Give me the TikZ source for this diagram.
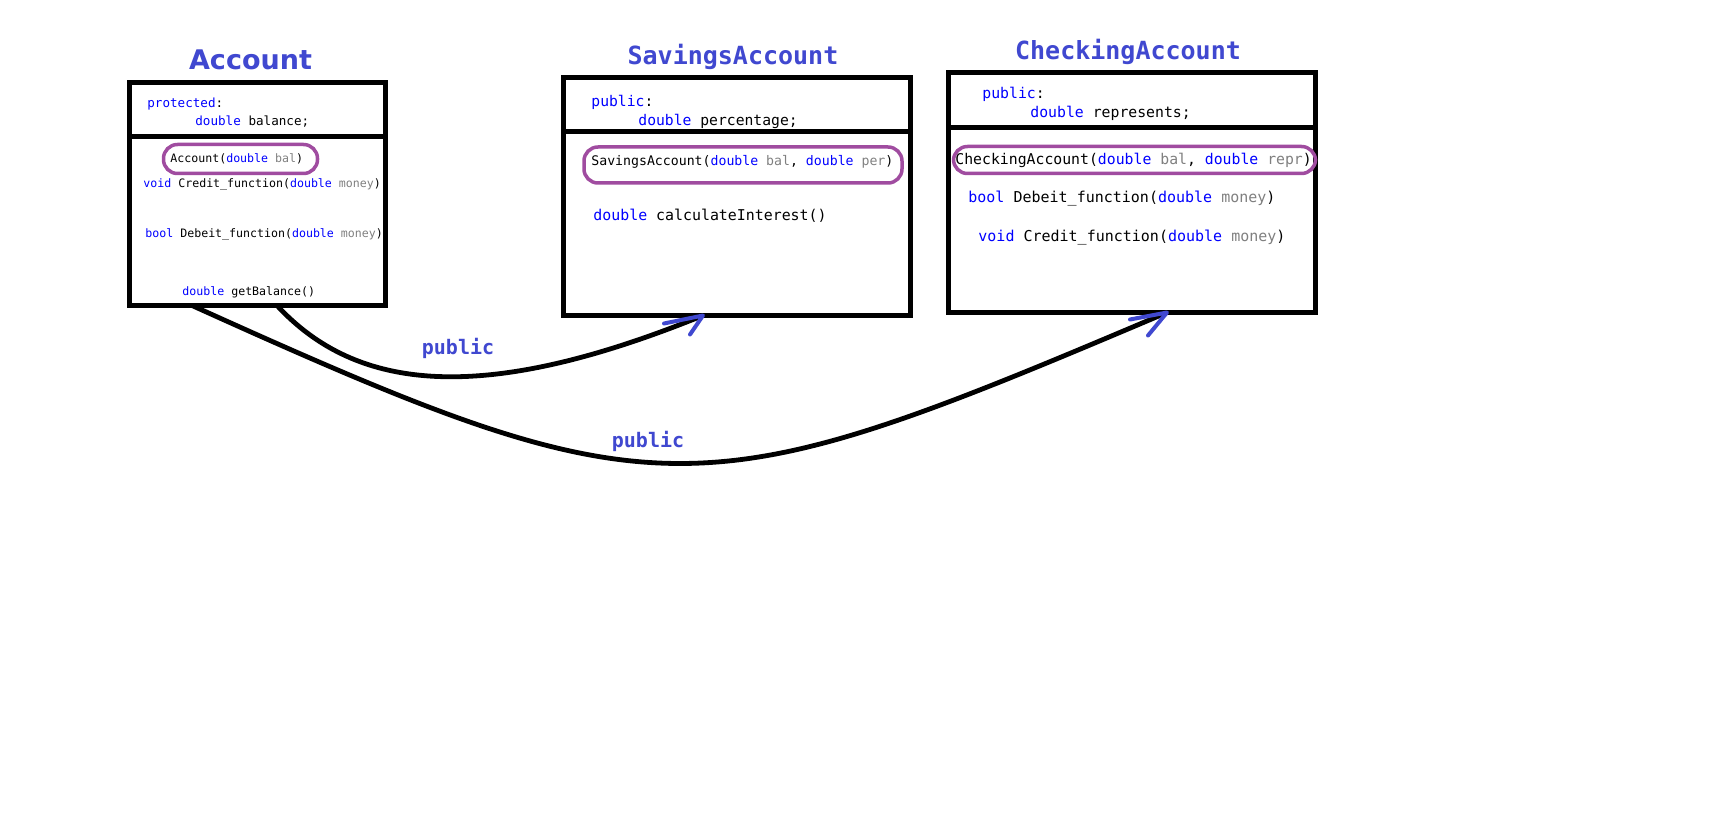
\documentclass[tikz,border=0pt]{standalone}
\usepackage{fontspec}
\setmainfont{DejaVu Sans}
\setmonofont{DejaVu Sans Mono}
\usetikzlibrary{calc}

\definecolor{kwblue}{RGB}{0,0,255}
\definecolor{parmgray}{RGB}{128,128,128}
\definecolor{titleblue}{RGB}{64,72,208}
\definecolor{ovalpurple}{RGB}{160,76,160}

\newcommand{\kw}[1]{\textcolor{kwblue}{#1}}
\newcommand{\prm}[1]{\textcolor{parmgray}{#1}}

\begin{document}
\begin{tikzpicture}[
    x=0.5pt, y=-0.5pt,
    umlbox/.style={draw, line width=2.5pt, inner sep=0pt, outer sep=0pt},
    divider/.style={line width=2.5pt},
    ctorbox/.style={draw=ovalpurple, line width=1.75pt, rounded corners=7pt, inner sep=0pt},
    code/.style={font=\fontsize{#1}{#1}\selectfont\ttfamily, anchor=base west, inner sep=0pt},
    title/.style={font=\fontsize{12.5pt}{12.5pt}\selectfont\ttfamily\bfseries, text=titleblue,
                  anchor=base, inner sep=0pt},
    inherit/.style={line width=2.4pt},
    head/.style={draw=titleblue, line width=2pt, line cap=round, line join=round},
    lbl/.style={font=\fontsize{10pt}{10pt}\selectfont\ttfamily\bfseries, text=titleblue, inner sep=0pt}
  ]

  \path[use as bounding box, fill=white] (0,0) rectangle (1736,828);

  % class boxes
  \node[umlbox, minimum width=128pt, minimum height=111.5pt] (account) at (257.5,194) {};
  \node[umlbox, minimum width=173.5pt, minimum height=119pt] (savings) at (737,196.5) {};
  \node[umlbox, minimum width=183.5pt, minimum height=120pt] (checking) at (1132,192.5) {};

  \draw[divider] (account.west |- 0,137) -- (account.east |- 0,137);
  \draw[divider] (savings.west |- 0,132) -- (savings.east |- 0,132);
  \draw[divider] (checking.west |- 0,128) -- (checking.east |- 0,128);

  % titles
  \node[title, font=\fontsize{13.5pt}{13.5pt}\selectfont\bfseries] (acctitle) at (250.5,70) {Account};
  \node[title] (savtitle) at (733,65) {SavingsAccount};
  \node[title] (chktitle) at (1128,60) {CheckingAccount};

  % constructor frames
  \node[ctorbox, minimum width=77pt, minimum height=14.5pt] (accframe) at (240.5,159) {};
  \node[ctorbox, minimum width=159pt, minimum height=18pt] (savframe) at (743,165) {};
  \node[ctorbox, minimum width=181pt, minimum height=13.5pt] (chkframe) at (1134.5,160) {};

  % Account
  \node[code=6.3pt] (accprot) at (147,108) {\kw{protected}:};
  \node[code=6.3pt] (accbal) at (195,126) {\kw{double} balance;};
  \node[code=5.8pt] (accctor) at (170,163) {Account(\kw{double} \prm{bal})};
  \node[code=5.8pt] (acccredit) at (143,188) {\kw{void} Credit\_function(\kw{double} \prm{money})};
  \node[code=5.8pt] (accdebit) at (145,238) {\kw{bool} Debeit\_function(\kw{double} \prm{money})};
  \node[code=5.8pt] (accget) at (182,296) {\kw{double} getBalance()};

  % SavingsAccount
  \node[code=7.35pt] (savpub) at (591,107) {\kw{public}:};
  \node[code=7.35pt] (savperc) at (638,126) {\kw{double} percentage;};
  \node[code=6.6pt] (savctor) at (591,166) {SavingsAccount(\kw{double} \prm{bal}, \kw{double} \prm{per})};
  \node[code=7.45pt] (savcalc) at (593,221) {\kw{double} calculateInterest()};

  % CheckingAccount
  \node[code=7.4pt] (chkpub) at (982,99) {\kw{public}:};
  \node[code=7.4pt] (chkrepr) at (1030,118) {\kw{double} represents;};
  \node[code=7.4pt] (chkctor) at (955,165) {CheckingAccount(\kw{double} \prm{bal}, \kw{double} \prm{repr})};
  \node[code=7.5pt] (chkdebit) at (968,203) {\kw{bool} Debeit\_function(\kw{double} \prm{money})};
  \node[code=7.5pt] (chkcredit) at (978,242) {\kw{void} Credit\_function(\kw{double} \prm{money})};

  % inheritance
  \draw[inherit] (account.south -| 277,0) .. controls (357,392) and (483,405) .. (savings.south -| 703,0);
  \draw[inherit] (account.south -| 192,0) .. controls (662,518) and (697,512) .. (checking.south -| 1167,0);
  \draw[head] (savings.south -| 703,0) ++(-39,8) -- ++(39,-8) -- ++(-13,19);
  \draw[head] (checking.south -| 1167,0) ++(-37,7) -- ++(37,-7) -- ++(-19,23);

  \node[lbl] (savpublic) at (458,348) {public};
  \node[lbl] (chkpublic) at (648,441) {public};

\end{tikzpicture}
\end{document}
